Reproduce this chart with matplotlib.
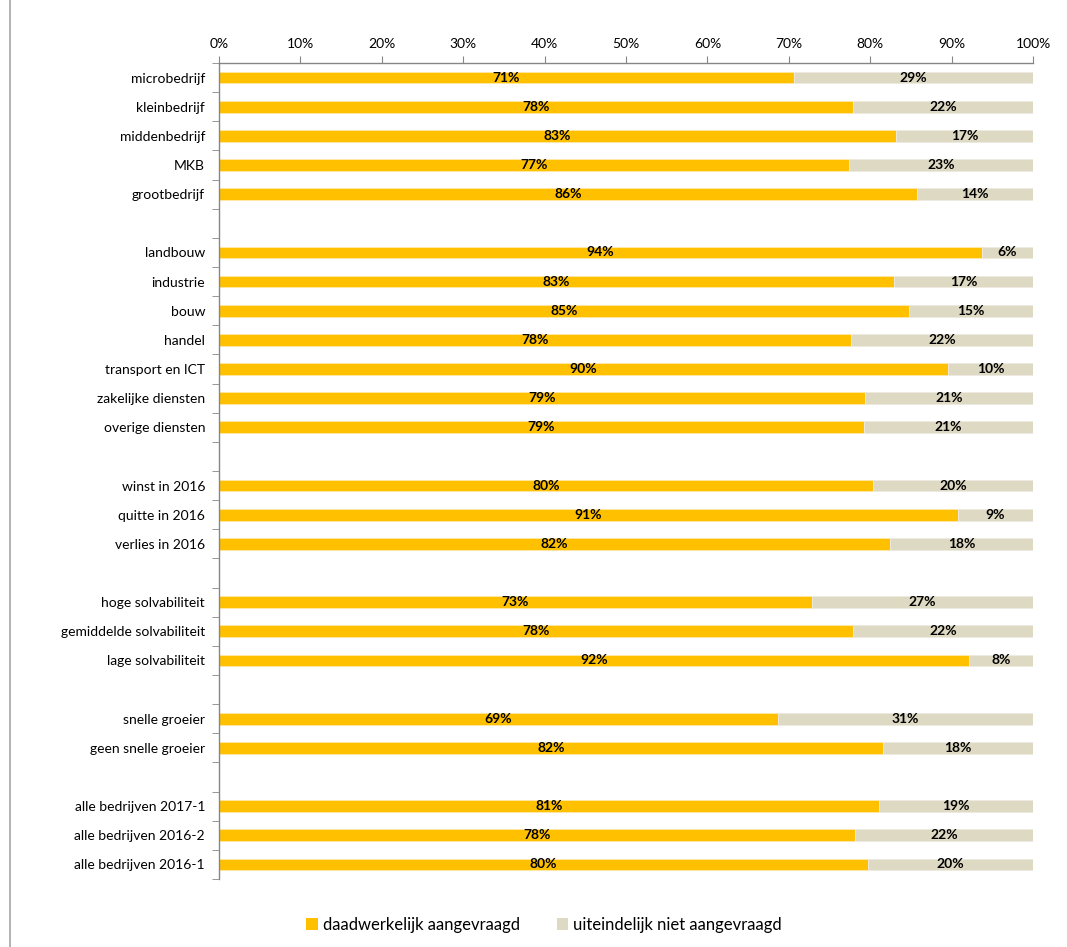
import matplotlib
matplotlib.use("Agg")
import matplotlib.pyplot as plt
from matplotlib.patches import Patch
from matplotlib.lines import Line2D
import numpy as np

plt.rcParams['font.family'] = ['Lato', 'DejaVu Sans']

# Data: share of firms that actually applied vs. eventually did not apply
categories = [
    "microbedrijf", "kleinbedrijf", "middenbedrijf", "MKB", "grootbedrijf",
    "landbouw", "industrie", "bouw", "handel", "transport en ICT",
    "zakelijke diensten", "overige diensten",
    "winst in 2016", "quitte in 2016", "verlies in 2016",
    "hoge solvabiliteit", "gemiddelde solvabiliteit", "lage solvabiliteit",
    "snelle groeier", "geen snelle groeier",
    "alle bedrijven 2017-1", "alle bedrijven 2016-2", "alle bedrijven 2016-1",
]
aangevraagd = [
    70.6, 77.9, 83.2, 77.4, 85.7,
    93.7, 82.9, 84.8, 77.6, 89.6, 79.3, 79.2,
    80.4, 90.8, 82.4,
    72.8, 77.9, 92.1,
    68.7, 81.6,
    81.1, 78.1, 79.7,
]
group_sizes = [5, 7, 3, 3, 2, 3]
series_names = ["daadwerkelijk aangevraagd", "uiteindelijk niet aangevraagd"]

aangevraagd = np.array(aangevraagd)
niet_aangevraagd = 100 - aangevraagd

# slot positions with an empty slot between groups
positions = []
slot = 0
for g, n in enumerate(group_sizes):
    for i in range(n):
        positions.append(slot)
        slot += 1
    if g < len(group_sizes) - 1:
        slot += 1
positions = np.array(positions)
n_slots = slot

orange = "#FFC000"
beige = "#DDD9C3"
axis_col = "#868686"

fig = plt.figure(figsize=(10.67, 9.47), dpi=100)
ax = fig.add_axes([219 / 1067, 1 - 879 / 947, (1033 - 219) / 1067, (879 - 63) / 947])

bar_h = 0.4
ax.barh(positions, aangevraagd, height=bar_h, color=orange, edgecolor="#FFE9A8", linewidth=0.6)
ax.barh(positions, niet_aangevraagd, left=aangevraagd, height=bar_h, color=beige,
        edgecolor="#EEECE2", linewidth=0.6)

for y, a, b in zip(positions, aangevraagd, niet_aangevraagd):
    ax.text(a / 2, y, f"{round(a):d}%", ha="center", va="center",
            fontsize=10, fontweight="bold", color="black")
    ax.text(a + b / 2, y, f"{round(b):d}%", ha="center", va="center",
            fontsize=10, fontweight="bold", color="black")

ax.set_xlim(0, 100)
ax.set_ylim(n_slots - 0.5, -0.5)

ax.xaxis.tick_top()
ax.set_xticks(np.arange(0, 101, 10))
ax.set_xticklabels([f"{v}%" for v in range(0, 101, 10)], fontsize=10)
ax.tick_params(axis="x", direction="out", length=5, color=axis_col, pad=4)

ax.set_yticks(positions)
ax.set_yticklabels(categories, fontsize=10)
ax.set_yticks(np.arange(-0.5, n_slots), minor=True)
ax.tick_params(axis="y", which="major", length=0, pad=10)
ax.tick_params(axis="y", which="minor", direction="out", length=5, color=axis_col)

for side in ["right", "bottom"]:
    ax.spines[side].set_visible(False)
for side in ["top", "left"]:
    ax.spines[side].set_color(axis_col)
    ax.spines[side].set_linewidth(1.0)

handles = [Patch(facecolor=orange, edgecolor="none"), Patch(facecolor=beige, edgecolor="none")]
fig.legend(handles, series_names, loc="center", bbox_to_anchor=(0.51, 1 - 925 / 947),
           ncol=2, frameon=False, fontsize=12, handlelength=0.7, handleheight=0.7,
           handletextpad=0.3, columnspacing=2.2)

# outer chart frame line on the left
fig.add_artist(Line2D([10 / 1067, 10 / 1067], [0, 1], color="#A6A6A6", linewidth=1.2,
                      transform=fig.transFigure))

fig.savefig("out.png", dpi=100)
